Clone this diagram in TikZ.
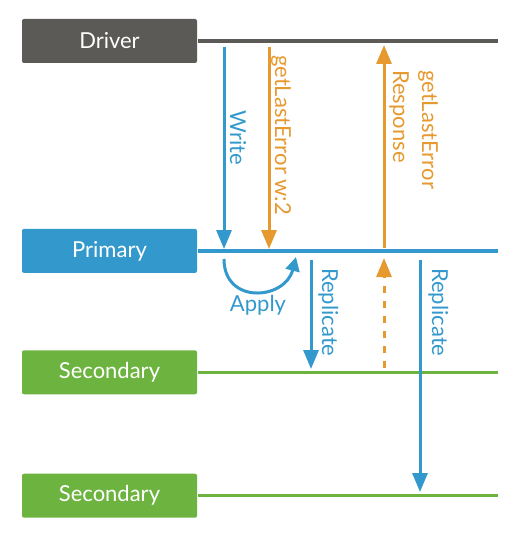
\documentclass[tikz,border=0pt]{standalone}
\usepackage{fontspec}
\setmainfont{Lato}
\usetikzlibrary{arrows.meta,positioning}
\definecolor{dgray}{RGB}{92,90,86}
\definecolor{mblue}{RGB}{51,153,204}
\definecolor{mgreen}{RGB}{109,179,63}
\definecolor{morange}{RGB}{230,153,46}

\begin{document}
\begin{tikzpicture}[x=1pt, y=-1pt,
    font=\fontsize{22}{29}\selectfont,
    box/.style={rectangle, rounded corners=2pt, text=white, minimum width=175pt, minimum height=44pt, inner sep=0pt},
    lifeline/.style={line width=3.5pt},
    msg/.style={-{Triangle[length=19pt,width=15pt]}, line width=3pt},
    lbl/.style={rotate=-90, anchor=base west, inner sep=0pt}
]
\useasboundingbox (0,0) rectangle (520,540);

% process boxes
\node[box, fill=dgray] (driver) at (109.5,41) {Driver};
\node[box, fill=mblue, below=165.5pt of driver] (primary) {Primary};
\node[box, fill=mgreen, below=77pt of primary] (sec1) {Secondary};
\node[box, fill=mgreen, below=79pt of sec1] (sec2) {Secondary};

% time lines
\coordinate (rim) at (498,0);
\draw[lifeline, dgray] ([xshift=1pt]driver.east) -- (driver.east -| rim);
\draw[lifeline, mblue] ([xshift=1pt]primary.east) -- (primary.east -| rim);
\draw[lifeline, mgreen] ([xshift=1pt]sec1.east) -- (sec1.east -| rim);
\draw[lifeline, mgreen] ([xshift=1pt]sec2.east) -- (sec2.east -| rim);

% driver -> primary
\coordinate (w0) at (224,47);
\coordinate (w1) at (224,249);
\coordinate (g0) at (269,47);
\coordinate (g1) at (269,249);
\coordinate (r0) at (384,248);
\coordinate (r1) at (384,45);
\draw[msg, mblue] (w0) -- (w1);
\draw[msg, morange] (g0) -- (g1);
\draw[msg, morange] (r0) -- (r1);
\node[lbl, text=mblue] (lwrite) at (230,110) {Write};
\node[lbl, text=morange] (lgle) at (275,55) {getLastError w:2};
\node[lbl, text=morange, anchor=north west, align=left] (lresp) at (438,70) {getLastError\\Response};

% apply on primary
\coordinate (a0) at (224,259);
\coordinate (a1) at (296,257);
\draw[mblue, line width=3pt, -{Triangle[length=14pt,width=14pt]}] (a0) .. controls (224,305) and (285,300) .. (a1);
\node[text=mblue, anchor=base] (lapply) at (258,311) {Apply};

% primary -> secondaries
\coordinate (p0) at (311,260);
\coordinate (p1) at (311,369);
\coordinate (d0) at (384,368);
\coordinate (d1) at (384,258);
\coordinate (q0) at (420,260);
\coordinate (q1) at (420,492);
\draw[msg, mblue] (p0) -- (p1);
\draw[msg, morange, dash pattern=on 7pt off 8pt] (d0) -- (d1);
\draw[msg, mblue] (q0) -- (q1);
\node[lbl, text=mblue] (lrep1) at (322,268) {Replicate};
\node[lbl, text=mblue] (lrep2) at (432,268) {Replicate};
\end{tikzpicture}
\end{document}
